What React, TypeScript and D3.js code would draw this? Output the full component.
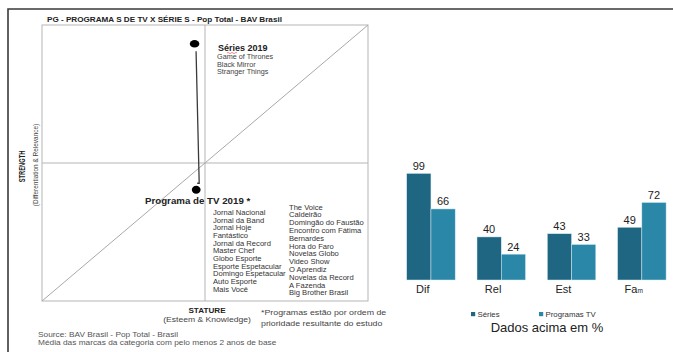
import * as React from "react";
import * as d3 from "d3";

// quadrant (stature x strength), values in % of the box
const QUAD_GROUPS = ["Séries 2019", "Programa de TV 2019 *"];
const QUAD_STATURE = [46.8, 47.3];
const QUAD_STRENGTH = [93.2, 40.3];

const SERIES_LIST = ["Game of Thrones", "Black Mirror", "Stranger Things"];
const TV_LIST_LEFT = [
  "Jornal Nacional",
  "Jornal da Band",
  "Jornal Hoje",
  "Fantástico",
  "Jornal da Record",
  "Master Chef",
  "Globo Esporte",
  "Esporte Espetacular",
  "Domingo Espetacular",
  "Auto Esporte",
  "Mais Você",
];
const TV_LIST_RIGHT = [
  "The Voice",
  "Caldeirão",
  "Domingão do Faustão",
  "Encontro com Fátima",
  "Bernardes",
  "Hora do Faro",
  "Novelas Globo",
  "Video Show",
  "O Aprendiz",
  "Novelas da Record",
  "A Fazenda",
  "Big Brother Brasil",
];

// bar chart
const CATEGORIES = ["Dif", "Rel", "Est", "Fam"];
const SERIES_NAMES = ["Séries", "Programas TV"];
const SERIES_VALUES = [99, 40, 43, 49];
const TV_VALUES = [66, 24, 33, 72];
const COLORS = ["#1e6681", "#2b87a7"];

const FONT = "'Liberation Sans', Arial, sans-serif";

// text stretched horizontally (the source image is a bit widened)
function T(props: {
  x: number;
  y: number;
  sx?: number;
  size: number;
  bold?: boolean;
  fill?: string;
  anchor?: string;
  children: React.ReactNode;
}) {
  const { x, y, sx = 1, size, bold, fill = "#333", anchor = "start" } = props;
  return (
    <text
      transform={`translate(${x},${y}) scale(${sx},1)`}
      fontSize={size}
      fontWeight={bold ? "bold" : "normal"}
      fill={fill}
      textAnchor={anchor}
    >
      {props.children}
    </text>
  );
}

export default function App() {
  const [width, height] = [673, 352];

  const qx = d3.scaleLinear().domain([0, 100]).range([42, 368]);
  const qy = d3.scaleLinear().domain([0, 100]).range([301, 25]);

  const bx = d3
    .scaleBand<string>()
    .domain(CATEGORIES)
    .range([395.8, 677])
    .paddingInner(0.31)
    .paddingOuter(0.155);
  const inner = d3
    .scaleBand<number>()
    .domain([0, 1])
    .range([0, bx.bandwidth()]);
  const by = d3.scaleLinear().domain([0, 99]).range([280, 173.4]);

  const values = [SERIES_VALUES, TV_VALUES];

  const top = { x: qx(QUAD_STATURE[0]), y: qy(QUAD_STRENGTH[0]) };
  const bot = { x: qx(QUAD_STATURE[1]), y: qy(QUAD_STRENGTH[1]) };

  return (
    <svg
      width={width}
      height={height}
      style={{ position: "absolute", left: 0, top: 0, background: "#fff" }}
      fontFamily={FONT}
    >
      <rect width={width} height={height} fill="#fff" />
      {/* outer frame */}
      <path d="M8,352 V9 H673" fill="none" stroke="#3a3a3a" strokeWidth={1.6} />

      {/* title */}
      <T x={47} y={22} sx={1.07} size={7.6} bold fill="#222">
        PG - PROGRAMA S DE TV X SÉRIE S  - Pop Total - BAV Brasil
      </T>

      {/* quadrant box */}
      <rect
        x={qx(0)}
        y={qy(100)}
        width={qx(100) - qx(0)}
        height={qy(0) - qy(100)}
        fill="none"
        stroke="#b5b5b5"
        strokeWidth={1}
      />
      <line x1={qx(50)} x2={qx(50)} y1={qy(0)} y2={qy(100)} stroke="#b5b5b5" />
      <line x1={qx(0)} x2={qx(100)} y1={qy(50)} y2={qy(50)} stroke="#b5b5b5" />
      <line x1={qx(0)} x2={qx(100)} y1={qy(0)} y2={qy(100)} stroke="#a8a8a8" />

      {/* connector */}
      <path
        d={`M${top.x + 1.5},${top.y + 7.5} L${bot.x + 3},${bot.y - 6.5} L${bot.x + 1},${bot.y - 6.5}`}
        fill="none"
        stroke="#3a3a3a"
        strokeWidth={1.3}
      />
      <ellipse cx={top.x} cy={top.y} rx={4.8} ry={3.7} fill="#000" />
      <ellipse cx={bot.x} cy={bot.y} rx={4.4} ry={4} fill="#000" />

      {/* séries label */}
      <T x={218} y={51} size={9} bold fill="#222">
        {QUAD_GROUPS[0]}
      </T>
      <path
        d="M227,53 q1,-1.2 2,0 t2,0 t2,0 t2,0 t2,0"
        fill="none"
        stroke="#e04040"
        strokeWidth={0.6}
      />
      {SERIES_LIST.map((s, i) => (
        <T key={s} x={217} y={59 + i * 7.7} sx={1.1} size={6.6} fill="#444">
          {s}
        </T>
      ))}

      {/* programa label */}
      <T x={145} y={204} sx={1.08} size={9} bold fill="#222">
        {QUAD_GROUPS[1]}
      </T>
      {TV_LIST_LEFT.map((s, i) => (
        <T key={s} x={213} y={215 + i * 7.67} sx={1.12} size={6.8}>
          {s}
        </T>
      ))}
      {TV_LIST_RIGHT.map((s, i) => (
        <T key={s} x={289} y={209.5 + i * 7.8} sx={1.12} size={6.8}>
          {s}
        </T>
      ))}

      {/* axis titles */}
      <text
        transform="translate(25,166.5) rotate(-90) scale(0.8,1.2)"
        textAnchor="middle"
        fontSize={7.2}
        fontWeight="bold"
        fill="#222"
      >
        STRENGTH
      </text>
      <text
        transform="translate(37.5,165) rotate(-90) scale(0.98,1.15)"
        textAnchor="middle"
        fontSize={6.6}
        fill="#444"
      >
        (Differentiation &amp; Relevance)
      </text>
      <T x={207} y={312.5} sx={1.1} size={7.4} bold fill="#222" anchor="middle">
        STATURE
      </T>
      <T x={207} y={321.5} sx={1.13} size={7.6} fill="#444" anchor="middle">
        (Esteem &amp; Knowledge)
      </T>
      <T x={261} y={315} sx={1.13} size={7.8} fill="#444">
        *Programas estão por ordem de
      </T>
      <T x={261} y={326} sx={1.13} size={7.8} fill="#444">
        prioridade resultante do estudo
      </T>
      <T x={38} y={336.5} sx={1.26} size={6.6} fill="#555">
        Source: BAV Brasil - Pop Total - Brasil
      </T>
      <T x={38} y={345} sx={1.26} size={6.6} fill="#555">
        Média das marcas da categoria com pelo menos 2 anos de base
      </T>

      {/* bars */}
      {CATEGORIES.map((c, ci) => (
        <g key={c} transform={`translate(${bx(c)},0)`}>
          {values.map((vals, si) => (
            <g key={si}>
              <rect
                x={inner(si)}
                y={by(vals[ci])}
                width={inner.bandwidth()}
                height={by(0) - by(vals[ci])}
                fill={COLORS[si]}
                stroke="#d8ebf2"
                strokeWidth={0.5}
              />
              <text
                x={(inner(si) ?? 0) + inner.bandwidth() / 2}
                y={by(vals[ci]) - 3.5}
                textAnchor="middle"
                fontSize={11}
                fill="#222"
              >
                {vals[ci]}
              </text>
            </g>
          ))}
          <text
            x={(inner(0) ?? 0) + inner.bandwidth() / 2 + 4}
            y={293}
            textAnchor="middle"
            fontSize={11}
            fill="#222"
          >
            {c === "Fam" ? (
              <>
                Fa<tspan fontSize={6.5}>m</tspan>
              </>
            ) : (
              c
            )}
          </text>
        </g>
      ))}

      {/* legend */}
      {SERIES_NAMES.map((n, i) => {
        const lx = i === 0 ? 471 : 539;
        return (
          <g key={n}>
            <rect x={lx} y={312} width={4.2} height={4.2} fill={COLORS[i]} />
            <text x={lx + 6.5} y={317} fontSize={7.8} fill="#333">
              {n}
            </text>
          </g>
        );
      })}
      <text x={547} y={332} textAnchor="middle" fontSize={13} fill="#222">
        Dados acima em %
      </text>
    </svg>
  );
}
